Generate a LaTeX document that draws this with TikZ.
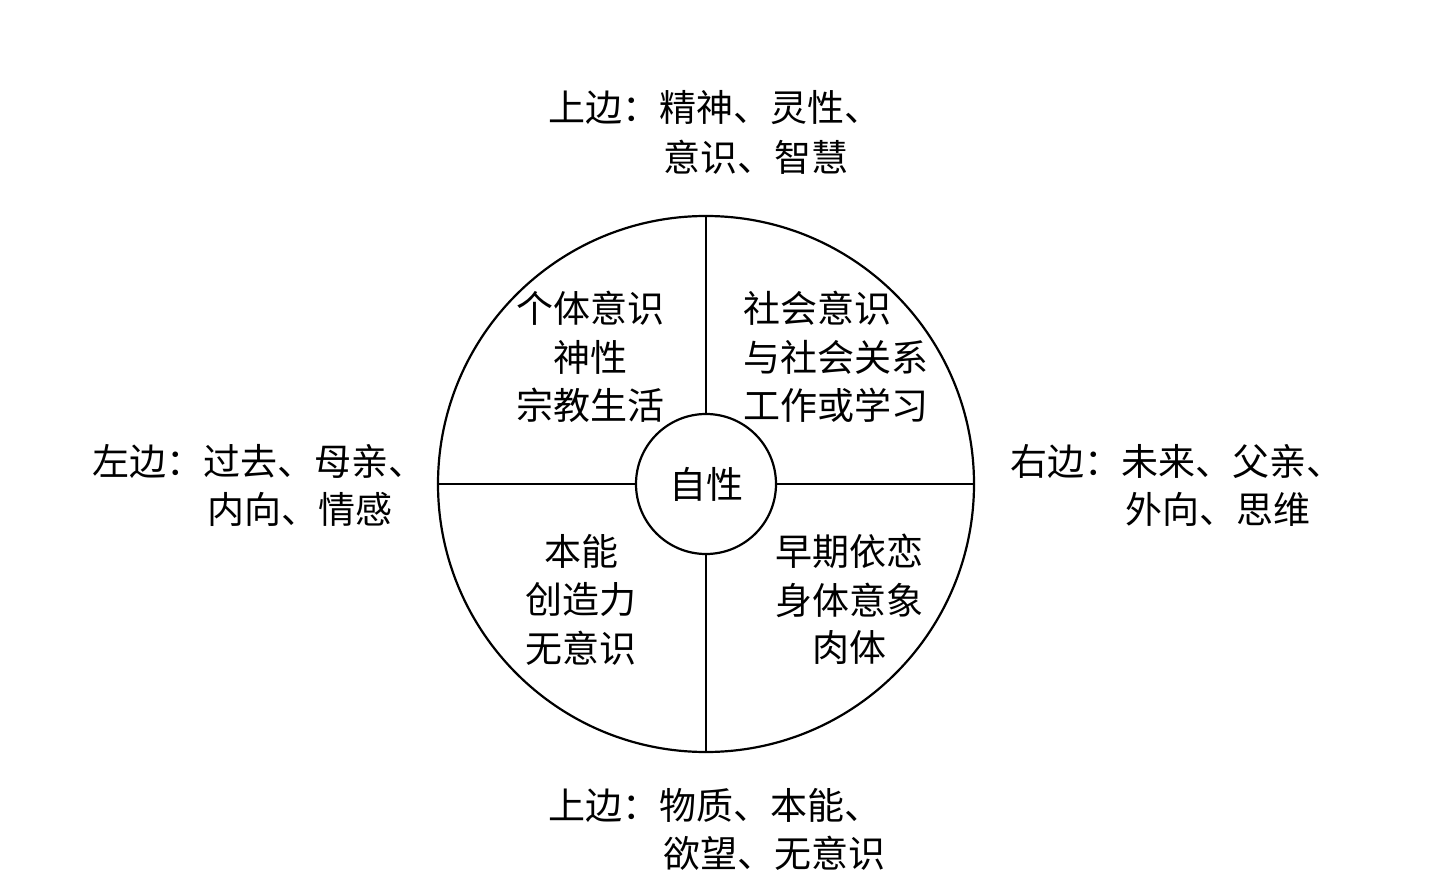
\documentclass[tikz,border=0pt]{standalone}
\usepackage{fontspec}
\newfontfamily\cjk{Noto Sans CJK SC}
\begin{document}
\begin{tikzpicture}[x=1pt,y=-1pt,
  lbl/.style={inner sep=0pt, font=\cjk\fontsize{37}{48}\selectfont},
  ring/.style={draw, line width=2.2pt, circle, inner sep=0pt}]
\useasboundingbox (0,0) rectangle (1430,893);
\node[ring, minimum size=536pt] (outer) at (706,484) {};
\node[ring, minimum size=140pt, font=\cjk\fontsize{37}{48}\selectfont] (self) at (706,484) {自性};
\draw[line width=2.2pt] (outer.north) -- (self.north);
\draw[line width=2.2pt] (outer.south) -- (self.south);
\draw[line width=2.2pt] (outer.west) -- (self.west);
\draw[line width=2.2pt] (outer.east) -- (self.east);
% top
\node[lbl, anchor=west] (t1) at (548,108) {上边：精神、灵性、};
\node[lbl, anchor=west] (t2) at (663,157) {意识、智慧};
% bottom
\node[lbl, anchor=west] (b1) at (548,805) {上边：物质、本能、};
\node[lbl, anchor=west] (b2) at (663,853) {欲望、无意识};
% left
\node[lbl, anchor=west] (l1) at (92,461) {左边：过去、母亲、};
\node[lbl, anchor=west] (l2) at (207,509) {内向、情感};
% right
\node[lbl, anchor=west] (r1) at (1010,461) {右边：未来、父亲、};
\node[lbl, anchor=west] (r2) at (1125,509) {外向、思维};
% quadrants
\node[lbl] (q11) at (590,308) {个体意识};
\node[lbl] (q12) at (590,357) {神性};
\node[lbl] (q13) at (590,405) {宗教生活};
\node[lbl, anchor=west] (q21) at (743,308) {社会意识};
\node[lbl, anchor=west] (q22) at (743,357) {与社会关系};
\node[lbl, anchor=west] (q23) at (743,405) {工作或学习};
\node[lbl] (q31) at (581,551) {本能};
\node[lbl] (q32) at (581,600) {创造力};
\node[lbl] (q33) at (581,648) {无意识};
\node[lbl] (q41) at (849,551) {早期依恋};
\node[lbl] (q42) at (849,600) {身体意象};
\node[lbl] (q43) at (849,648) {肉体};
\end{tikzpicture}
\end{document}
